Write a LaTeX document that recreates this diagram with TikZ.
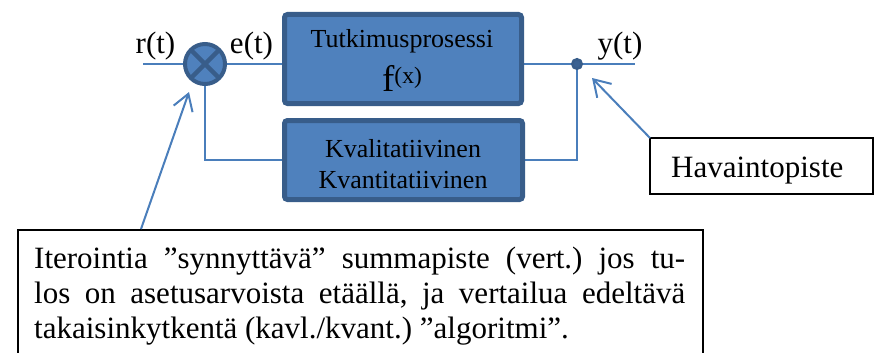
\documentclass[tikz,border=0pt]{standalone}
\usepackage{fontspec}
\setmainfont{Liberation Serif}
\usetikzlibrary{arrows.meta,backgrounds}
\definecolor{blockfill}{HTML}{4F81BD}
\definecolor{blockline}{HTML}{385D8A}
\definecolor{wirecol}{HTML}{4A7EBB}
\frenchspacing
\begin{document}
\begin{tikzpicture}[x=1pt,y=-1pt,
  wire/.style={draw=wirecol, line width=2pt},
  pointer/.style={draw=wirecol, line width=2pt, -{Straight Barb[length=16pt,width=20pt]}},
  blockbox/.style={draw=blockline, fill=blockfill, line width=5pt, rounded corners=3pt, inner sep=0pt, outer sep=0pt},
  sumnode/.style={circle, draw=blockline, fill=blockfill, line width=4pt, minimum size=40pt, inner sep=0pt, outer sep=0pt},
  tapnode/.style={circle, draw=blockline, fill=blockline!85!blockfill, line width=2.5pt, minimum size=9.5pt, inner sep=0pt, outer sep=0pt},
  framebox/.style={draw=black, line width=1.8pt, fill=white, inner sep=0pt, outer sep=0pt},
  signame/.style={font=\fontsize{31}{36}\selectfont, inner sep=0pt, anchor=base},
  blocktext/.style={font=\fontsize{26}{31}\selectfont, inner sep=0pt, anchor=base}]
\useasboundingbox (0,0) rectangle (875,353);
\clip (0,0) rectangle (875,353);

% summing junction and the two blocks
\node[sumnode] (sum) at (205,64) {};
\draw[blockline, line width=4.5pt] (sum.45) -- (sum.225) (sum.135) -- (sum.315);
\node[blockbox, minimum width=237pt, minimum height=89pt] (proc) at (403,59) {};
\node[blockbox, minimum width=238pt, minimum height=79pt] (fb) at (403.5,160) {};
\node[tapnode] (tap) at (577,64) {};

% signal wires, kept behind the blocks
\coordinate (in) at (143,64);
\coordinate (out) at (635,64);
\begin{scope}[on background layer]
  \draw[wire] (in) -- (sum.west);
  \draw[wire] (sum.east) -- (sum.east -| proc.west);
  \draw[wire] (tap.center -| proc.east) -- (out);
  \draw[wire] (tap.center) |- (fb.east);
  \draw[wire] (fb.west) -| (sum.south);
\end{scope}

% signal names
\node[signame] (rlab) at (155.5,53) {r(t)};
\node[signame] (elab) at (251.5,53) {e(t)};
\node[signame] (ylab) at (620,54) {y(t)};

% block contents
\node[blocktext] (proctitle) at (402,48) {Tutkimusprosessi};
\node[inner sep=0pt, anchor=base] (procfun) at (402,92)
  {\fontsize{37}{40}\selectfont f\raisebox{9pt}{\fontsize{23.5}{26}\selectfont(x)}};
\node[blocktext] (fbline1) at (403,157) {Kvalitatiivinen};
\node[blocktext] (fbline2) at (403,188) {Kvantitatiivinen};

% callout: observation point
\node[framebox, minimum width=223pt, minimum height=56pt] (obs) at (761.5,166) {};
\node[signame, anchor=base west] (obstext) at (671,177) {Havaintopiste};
\coordinate (obstip) at (592,78);
\draw[pointer] (obs.north west) -- (obstip);

% callout: summing point explanation
\node[framebox, minimum width=685pt, minimum height=150pt] (note) at (360.5,305) {};
\node[anchor=north west, inner sep=0pt, text width=651pt, align=justify,
      font=\fontsize{31}{35}\selectfont] (notetext) at (34,243.5)
  {\strut Iterointia ”synnyttävä” summapiste (vert.) jos tu-\linebreak
   los on asetusarvoista etäällä, ja vertailua edeltävä\linebreak
   takaisinkytkentä (kavl./kvant.) ”algoritmi”.};
\coordinate (notefoot) at (141,229);
\coordinate (sumtip) at (189,92);
\draw[pointer] (notefoot) -- (sumtip);
\end{tikzpicture}
\end{document}
